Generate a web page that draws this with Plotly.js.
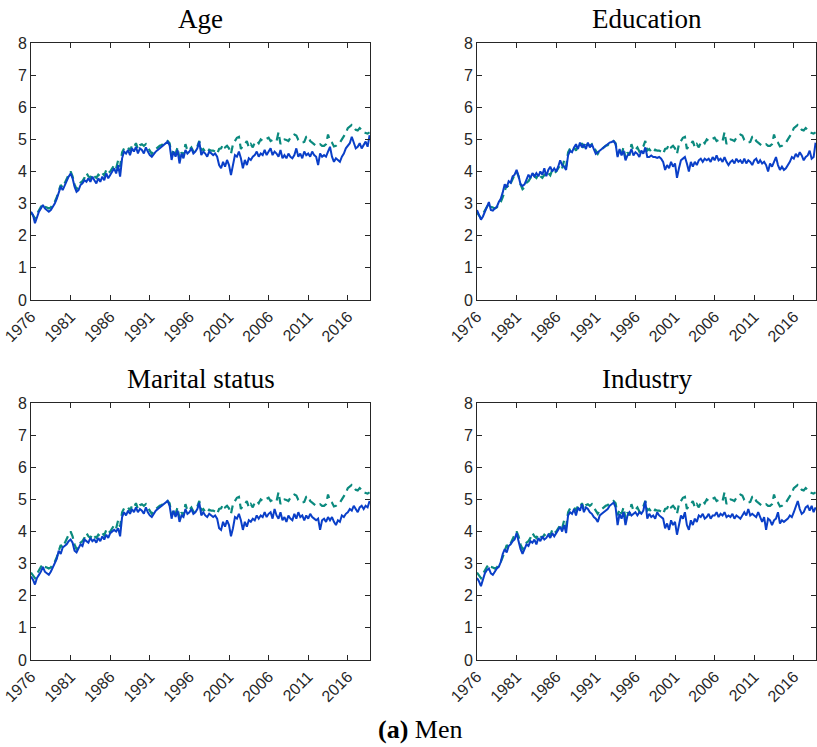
<!DOCTYPE html>
<html>
<head>
<meta charset="utf-8">
<script src="https://cdn.plot.ly/plotly-3.0.1.min.js"></script>
<style>html,body{margin:0;padding:0;background:#fff;}#chart{width:817px;height:747px;}</style>
</head>
<body>
<div id="chart"></div>
<script>
// Quarterly readings, starting 1976 Q1
const startYear = 1976;
const panelTitles = ["Age", "Education", "Marital status", "Industry"];
const tickYears = [1976, 1981, 1986, 1991, 1996, 2001, 2006, 2011, 2016];
const yTicks = [0, 1, 2, 3, 4, 5, 6, 7, 8];
const captionLabel = "(a)";
const captionText = "Men";

// Actual series (teal dashed) — same in all panels
const actual = [
2.72,2.65,2.55,2.68, 2.80,2.90,2.98,2.90, 2.88,2.85,2.88,2.95, 3.05,3.20,3.40,3.58,
3.50,3.65,3.75,3.90, 4.00,3.85,3.60,3.45, 3.50,3.65,3.70,3.80, 3.95,3.85,3.80,3.92,
3.85,3.80,3.90,3.85, 3.95,3.88,4.05,3.95, 4.00,4.10,4.20,4.10, 4.35,4.15,4.60,4.72,
4.70,4.75,4.65,4.80, 4.75,4.88,4.70,4.82, 4.85,4.80,4.85,4.75, 4.65,4.55,4.65,4.70,
4.75,4.80,4.82,4.88, 4.90,4.95,4.88,4.50, 4.70,4.55,4.75,4.40, 4.60,4.50,4.85,4.65,
4.68,4.75,4.62,4.68, 4.78,4.95,4.65,4.70, 4.62,4.58,4.68,4.65, 4.65,4.62,4.55,4.70,
4.72,4.85,4.75,4.80, 4.72,4.55,4.85,4.95, 5.05,5.08,4.70,4.80, 4.85,4.95,4.75,4.85,
4.75,4.90,4.95,4.88, 5.00,4.95,4.98,5.02, 5.05,4.95,4.98,4.95, 4.95,5.22,4.85,4.95,
5.00,4.98,4.95,5.05, 5.10,5.15,5.12,4.98, 4.95,4.90,4.92,5.08, 5.10,4.95,4.90,4.85,
4.80,4.82,4.85,4.80, 4.80,4.85,5.15,4.95, 4.90,4.78,4.80,4.85, 4.90,5.00,5.10,5.20,
5.35,5.40,5.45,5.40, 5.30,5.28,5.35,5.30, 5.22,5.20,5.18,5.22
];

// Counterfactual series (blue solid), one per panel
const ageFixed = [
2.75,2.65,2.39,2.60, 2.75,2.85,2.96,2.85, 2.80,2.75,2.80,2.90, 3.00,3.15,3.32,3.53,
3.42,3.58,3.68,3.84, 3.94,3.79,3.53,3.37, 3.42,3.58,3.63,3.73, 3.68,3.79,3.68,3.84,
3.73,3.63,3.79,3.68, 3.84,3.73,3.94,3.79, 3.89,4.00,4.10,3.94, 4.20,3.84,4.41,4.62,
4.56,4.67,4.51,4.72, 4.62,4.77,4.56,4.72, 4.67,4.56,4.75,4.62, 4.51,4.46,4.56,4.62,
4.67,4.72,4.77,4.82, 4.88,4.93,4.82,4.36, 4.62,4.46,4.67,4.25, 4.56,4.41,4.67,4.56,
4.62,4.72,4.56,4.62, 4.72,4.93,4.51,4.62, 4.56,4.46,4.62,4.56, 4.51,4.56,4.46,4.20,
4.10,4.30,4.15,4.36, 4.20,3.89,4.15,4.51, 4.46,4.62,4.41,4.10, 4.36,4.20,4.41,4.36,
4.46,4.51,4.62,4.46, 4.56,4.51,4.67,4.51, 4.62,4.72,4.51,4.62, 4.56,4.46,4.67,4.41,
4.51,4.41,4.56,4.46, 4.41,4.51,4.72,4.46, 4.56,4.41,4.62,4.51, 4.56,4.46,4.62,4.51,
4.46,4.20,4.56,4.46, 4.51,4.46,4.62,4.77, 4.46,4.30,4.41,4.36, 4.30,4.46,4.56,4.72,
4.82,4.88,5.08,4.93, 4.72,4.77,4.88,4.72, 4.82,4.93,4.77,5.13
];
const educationFixed = [
2.80,2.65,2.50,2.60, 2.75,2.85,3.05,2.80, 2.78,2.85,2.90,3.05, 3.15,3.35,3.60,3.50,
3.70,3.65,3.85,3.90, 4.05,3.85,3.60,3.55, 3.60,3.75,3.90,3.80, 3.95,3.85,3.95,3.85,
4.00,3.90,4.10,3.85, 4.05,4.15,4.00,4.10, 4.00,4.15,4.35,4.20, 4.15,4.05,4.50,4.65,
4.60,4.75,4.85,4.70, 4.90,4.75,4.85,4.70, 4.90,4.75,4.85,4.70, 4.55,4.60,4.65,4.70,
4.75,4.80,4.85,4.90, 4.92,4.95,4.85,4.45, 4.70,4.50,4.65,4.35, 4.50,4.55,4.70,4.50,
4.60,4.55,4.45,4.65, 4.55,4.75,4.45,4.45, 4.50,4.45,4.45,4.42, 4.45,4.40,4.30,4.05,
4.20,4.10,4.30,4.15, 4.25,3.80,4.10,4.35, 4.40,4.45,4.25,4.00, 4.30,4.15,4.30,4.20,
4.35,4.40,4.30,4.40, 4.35,4.40,4.30,4.45, 4.35,4.50,4.35,4.40, 4.30,4.45,4.30,4.20,
4.30,4.35,4.25,4.40, 4.30,4.35,4.25,4.40, 4.25,4.35,4.30,4.20, 4.35,4.40,4.25,4.35,
4.25,4.30,4.20,4.00, 4.25,4.15,4.30,4.45, 4.20,4.05,4.15,4.05, 4.10,4.20,4.30,4.45,
4.40,4.55,4.45,4.60, 4.50,4.35,4.45,4.50, 4.65,4.40,4.45,4.90
];
const maritalFixed = [
2.60,2.50,2.35,2.55, 2.65,2.75,2.90,2.75, 2.70,2.65,2.75,2.90, 3.00,3.15,3.40,3.30,
3.50,3.55,3.60,3.70, 3.75,3.65,3.40,3.35, 3.50,3.60,3.55,3.75, 3.70,3.65,3.80,3.70,
3.75,3.65,3.80,3.70, 3.85,3.75,3.90,3.80, 3.95,4.00,4.05,4.00, 4.10,3.85,4.45,4.60,
4.50,4.65,4.55,4.70, 4.60,4.75,4.60,4.70, 4.65,4.55,4.75,4.60, 4.50,4.45,4.55,4.65,
4.70,4.75,4.80,4.85, 4.90,4.95,4.80,4.40, 4.65,4.45,4.65,4.30, 4.50,4.45,4.70,4.55,
4.60,4.70,4.55,4.60, 4.70,4.90,4.50,4.60, 4.50,4.45,4.55,4.50, 4.45,4.50,4.40,4.10,
4.05,4.30,4.15,4.35, 4.20,3.85,4.10,4.45, 4.40,4.55,4.35,4.05, 4.30,4.15,4.35,4.30,
4.40,4.35,4.50,4.40, 4.50,4.45,4.60,4.45, 4.55,4.60,4.40,4.70, 4.50,4.40,4.60,4.35,
4.45,4.30,4.50,4.40, 4.35,4.55,4.40,4.60, 4.45,4.50,4.35,4.50, 4.40,4.55,4.45,4.40,
4.35,4.40,4.05,4.35, 4.40,4.30,4.45,4.35, 4.45,4.30,4.20,4.35, 4.30,4.50,4.45,4.55,
4.60,4.70,4.65,4.80, 4.70,4.60,4.75,4.80, 4.70,4.80,4.75,4.95
];
const industryFixed = [
2.55,2.45,2.30,2.50, 2.70,2.80,2.85,2.70, 2.65,2.75,2.85,2.90, 3.05,3.30,3.45,3.35,
3.55,3.60,3.70,3.75, 3.95,3.70,3.45,3.30, 3.45,3.60,3.55,3.70, 3.65,3.75,3.60,3.80,
3.70,3.85,3.75,3.80, 3.90,3.80,3.95,3.85, 3.95,4.05,4.15,4.00, 4.20,3.95,4.50,4.60,
4.55,4.70,4.50,4.75, 4.65,4.85,4.60,4.75, 4.70,4.60,4.55,4.45, 4.40,4.30,4.50,4.55,
4.60,4.65,4.70,4.80, 4.85,4.90,4.75,4.20, 4.55,4.40,4.60,4.20, 4.50,4.60,4.50,4.55,
4.60,4.50,4.60,4.55, 4.65,4.95,4.40,4.55, 4.45,4.50,4.40,4.60, 4.50,4.45,4.40,4.10,
4.25,4.05,4.35,4.20, 4.30,3.90,4.20,4.50, 4.40,4.60,4.20,4.05, 4.35,4.20,4.40,4.30,
4.50,4.45,4.55,4.40, 4.45,4.55,4.40,4.50, 4.50,4.60,4.45,4.55, 4.50,4.60,4.45,4.50,
4.45,4.55,4.40,4.50, 4.45,4.40,4.50,4.60, 4.50,4.70,4.50,4.55, 4.50,4.45,4.60,4.45,
4.30,4.45,4.05,4.40, 4.35,4.20,4.35,4.40, 4.60,4.25,4.35,4.30, 4.35,4.40,4.50,4.45,
4.60,4.80,4.95,4.70, 4.55,4.60,4.75,4.80, 4.65,4.80,4.60,4.75
];

const fixedSeries = [ageFixed, educationFixed, maritalFixed, industryFixed];
const dates = actual.map((_, i) => startYear + i * 0.25);

const W = 817, H = 747;
const tealColor = "#0b8a7e";
const blueColor = "#0a3fc8";
const axisColor = "#262626";

// pixel boxes of the four plot areas
const boxes = [
  {l: 31, r: 370, t: 43, b: 300},
  {l: 477, r: 816, t: 43, b: 300},
  {l: 31, r: 370, t: 403, b: 660},
  {l: 477, r: 816, t: 403, b: 660}
];

const traces = [];
const layout = {
  width: W, height: H,
  margin: {l: 0, r: 0, t: 0, b: 0},
  paper_bgcolor: "#fff", plot_bgcolor: "#fff",
  showlegend: false,
  annotations: []
};

boxes.forEach((bx, k) => {
  const n = k + 1;
  const sfx = (n === 1 ? "" : String(n));
  const xa = "x" + sfx, ya = "y" + sfx;
  traces.push({
    x: dates, y: actual, xaxis: xa, yaxis: ya, type: "scatter", mode: "lines",
    line: {color: tealColor, width: 2.2, dash: "8px,5px"}, hoverinfo: "skip"
  });
  traces.push({
    x: dates, y: fixedSeries[k], xaxis: xa, yaxis: ya, type: "scatter", mode: "lines",
    line: {color: blueColor, width: 2}, hoverinfo: "skip"
  });
  const common = {
    showline: true, linecolor: axisColor, linewidth: 1, mirror: "ticks",
    ticks: "inside", ticklen: 5, tickcolor: axisColor, tickwidth: 1,
    showgrid: false, zeroline: false, fixedrange: true,
    tickfont: {family: "Liberation Sans, Arial, sans-serif", size: 16, color: axisColor}
  };
  layout["xaxis" + sfx] = Object.assign({}, common, {
    domain: [bx.l / W, bx.r / W], anchor: ya,
    range: [1976, 2018.8], tickmode: "array", tickvals: tickYears,
    ticktext: tickYears.map(String), tickangle: -45
  });
  layout["yaxis" + sfx] = Object.assign({}, common, {
    domain: [1 - bx.b / H, 1 - bx.t / H], anchor: xa,
    range: [0, 8], tickmode: "array", tickvals: yTicks, ticktext: yTicks.map(String)
  });
  layout.annotations.push({
    text: panelTitles[k], xref: "paper", yref: "paper",
    x: (bx.l + bx.r) / 2 / W, y: 1 - (bx.t - 24) / H,
    xanchor: "center", yanchor: "middle", showarrow: false,
    font: {family: "Liberation Serif, Times New Roman, serif", size: 27, color: "#000"}
  });
});

layout.annotations.push({
  text: "<b>" + captionLabel + "</b> " + captionText, xref: "paper", yref: "paper",
  x: 420 / W, y: 1 - 729 / H, xanchor: "center", yanchor: "middle", showarrow: false,
  font: {family: "Liberation Serif, Times New Roman, serif", size: 26, color: "#000"}
});

Plotly.newPlot("chart", traces, layout, {displayModeBar: false, staticPlot: true});
</script>
</body>
</html>
